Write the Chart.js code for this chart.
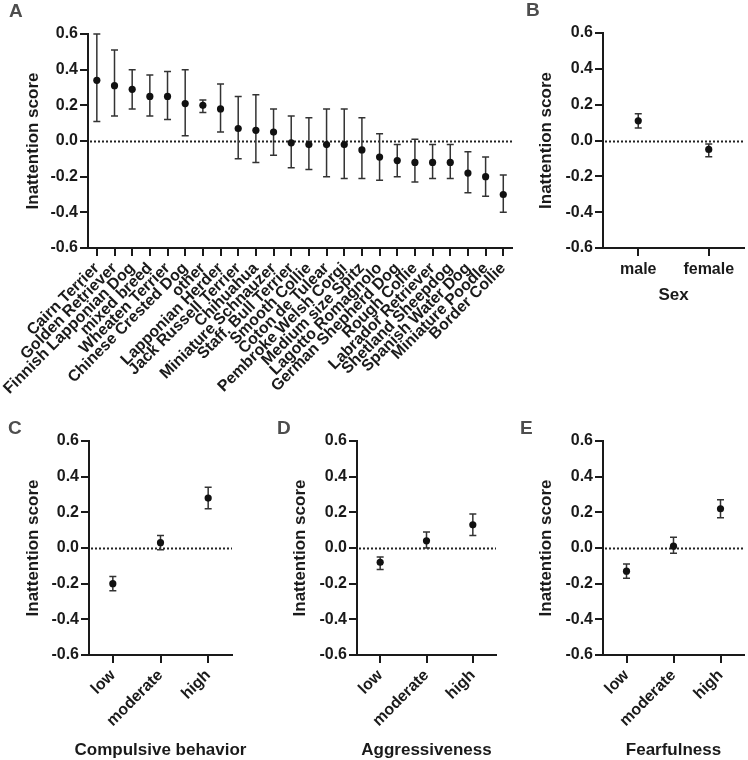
<!DOCTYPE html>
<html>
<head>
<meta charset="utf-8">
<script src="https://cdn.jsdelivr.net/npm/chart.js@4.4.1/dist/chart.umd.min.js"></script>
<style>
  body { margin: 0; background: #fff; }
  #wrap { position: relative; width: 748px; height: 760px; overflow: hidden; }
  canvas { position: absolute; }
  .tag { position: absolute; font: bold 19px "Liberation Sans", Arial, sans-serif; line-height: 1; color: #4d4d4d; }
</style>
</head>
<body>
<div id="wrap">
  <canvas id="cA" width="520" height="420" style="left:0;top:0"></canvas>
  <canvas id="cB" width="228" height="320" style="left:520px;top:0"></canvas>
  <canvas id="cC" width="262" height="360" style="left:0;top:400px"></canvas>
  <canvas id="cD" width="260" height="360" style="left:240px;top:400px"></canvas>
  <canvas id="cE" width="248" height="360" style="left:500px;top:400px"></canvas>
  <div class="tag" style="left:9px;top:1px">A</div>
  <div class="tag" style="left:526px;top:0px">B</div>
  <div class="tag" style="left:8px;top:418px">C</div>
  <div class="tag" style="left:277px;top:418px">D</div>
  <div class="tag" style="left:520px;top:418px">E</div>
</div>
<script>
// panel A - breeds
const breeds = ['Cairn Terrier', 'Golden Retriever', 'Finnish Lapponian Dog', 'mixed breed', 'Wheaten Terrier',
  'Chinese Crested Dog', 'other', 'Lapponian Herder', 'Jack Russell Terrier', 'Chihuahua', 'Miniature Schnauzer',
  'Staff. Bull Terrier', 'Smooth Collie', 'Coton de Tulear', 'Pembroke Welsh Corgi', 'Medium size Spitz',
  'Lagotto Romagnolo', 'German Shepherd Dog', 'Rough Collie', 'Labrador Retriever', 'Shetland Sheepdog',
  'Spanish Water Dog', 'Miniature Poodle', 'Border Collie'];
const breedMean = [0.34, 0.31, 0.29, 0.25, 0.25, 0.21, 0.20, 0.18, 0.07, 0.06, 0.05, -0.01,
  -0.02, -0.02, -0.02, -0.05, -0.09, -0.11, -0.12, -0.12, -0.12, -0.18, -0.20, -0.30];
const breedHigh = [0.60, 0.51, 0.40, 0.37, 0.39, 0.40, 0.23, 0.32, 0.25, 0.26, 0.18, 0.14,
  0.13, 0.18, 0.18, 0.13, 0.04, -0.02, 0.01, -0.02, -0.02, -0.06, -0.09, -0.19];
const breedLow = [0.11, 0.14, 0.18, 0.14, 0.12, 0.03, 0.16, 0.05, -0.10, -0.12, -0.08, -0.15,
  -0.16, -0.20, -0.21, -0.21, -0.22, -0.20, -0.23, -0.21, -0.21, -0.29, -0.31, -0.40];

// panel B - sex
const sexLabels = ['male', 'female'];
const sexMean = [0.11, -0.05];
const sexHigh = [0.15, -0.02];
const sexLow = [0.07, -0.09];

// panels C-E - behaviour levels
const levels = ['low', 'moderate', 'high'];
const compMean = [-0.20, 0.03, 0.28];
const compHigh = [-0.16, 0.07, 0.34];
const compLow = [-0.24, -0.01, 0.22];
const aggrMean = [-0.08, 0.04, 0.13];
const aggrHigh = [-0.05, 0.09, 0.19];
const aggrLow = [-0.12, 0.00, 0.07];
const fearMean = [-0.13, 0.01, 0.22];
const fearHigh = [-0.09, 0.06, 0.27];
const fearLow = [-0.17, -0.03, 0.17];

const yTicks = [-0.6, -0.4, -0.2, 0.0, 0.2, 0.4, 0.6];

Chart.defaults.font.family = '"Liberation Sans", Arial, sans-serif';
Chart.defaults.color = '#1a1a1a';

const ink = '#1a1a1a';

// dotted zero line + whiskers, drawn under the points
const errorBars = {
  id: 'errorBars',
  beforeDatasetsDraw(chart) {
    const { ctx, chartArea, scales: { x, y } } = chart;
    const ds = chart.data.datasets[0];
    ctx.save();
    const y0 = Math.round(y.getPixelForValue(0)) + 0.5;
    ctx.strokeStyle = '#222';
    ctx.lineWidth = 2;
    ctx.setLineDash([2, 2]);
    ctx.beginPath();
    ctx.moveTo(chartArea.left + 2, y0);
    ctx.lineTo(chartArea.right, y0);
    ctx.stroke();
    ctx.setLineDash([]);

    ctx.strokeStyle = '#333';
    ctx.lineWidth = 1.5;
    ds.low.forEach((lo, i) => {
      const px = x.getPixelForValue(i);
      const yl = y.getPixelForValue(lo);
      const yh = y.getPixelForValue(ds.high[i]);
      ctx.beginPath();
      ctx.moveTo(px, yl); ctx.lineTo(px, yh);
      ctx.moveTo(px - 3.5, yl); ctx.lineTo(px + 3.5, yl);
      ctx.moveTo(px - 3.5, yh); ctx.lineTo(px + 3.5, yh);
      ctx.stroke();
    });
    ctx.restore();
  }
};

// x axis title without the width squeeze chart.js applies
const xTitle = {
  id: 'xTitle',
  afterDraw(chart, args, opts) {
    if (!opts.text) return;
    const { ctx, chartArea } = chart;
    ctx.save();
    ctx.font = 'bold 17px "Liberation Sans", Arial, sans-serif';
    ctx.fillStyle = ink;
    ctx.textAlign = 'center';
    ctx.textBaseline = 'middle';
    ctx.fillText(opts.text, (chartArea.left + chartArea.right) / 2, opts.y);
    ctx.restore();
  }
};

function axisBits() {
  return {
    grid: { display: true, drawOnChartArea: false, drawTicks: true, tickLength: 8, color: ink, lineWidth: 2 },
    border: { display: true, color: ink, width: 2 }
  };
}

function panel(id, labels, mean, low, high, o) {
  new Chart(document.getElementById(id), {
    type: 'line',
    data: {
      labels,
      datasets: [{
        data: mean, low, high,
        showLine: false,
        pointRadius: 3.6,
        pointBackgroundColor: '#111',
        pointBorderWidth: 0
      }]
    },
    options: {
      responsive: false,
      animation: false,
      devicePixelRatio: 1,
      layout: { padding: { top: o.top, right: o.right, left: 0, bottom: 0 } },
      plugins: {
        legend: { display: false },
        tooltip: { enabled: false },
        xTitle: { text: o.xTitle, y: o.xTitleY }
      },
      scales: {
        x: {
          type: 'category',
          offset: true,
          ...axisBits(),
          ticks: {
            autoSkip: false, maxRotation: o.rot, minRotation: o.rot, padding: o.rot ? 3 : 4,
            font: { size: 16, weight: 'bold' }, color: ink
          },
          afterFit(s) { s.height = o.xh; }
        },
        y: {
          min: -0.6, max: 0.6,
          ...axisBits(),
          afterBuildTicks(s) { s.ticks = yTicks.map(v => ({ value: v })); },
          ticks: {
            padding: 2, color: ink, font: { size: 16, weight: 'bold' },
            callback: v => (Math.abs(v) < 1e-9 ? 0 : v).toFixed(1)
          },
          title: {
            display: true, text: 'Inattention score', color: ink,
            font: { size: 17, weight: 'bold' }, padding: { top: o.yTitlePad, bottom: 0 }
          },
          afterFit(s) { s.width = o.yw; }
        }
      }
    },
    plugins: [errorBars, xTitle]
  });
}

panel('cA', breeds, breedMean, breedLow, breedHigh, { top: 34, right: 7, yw: 88, xh: 172, rot: 45, yTitlePad: 23 });
panel('cB', sexLabels, sexMean, sexLow, sexHigh, { top: 33, right: 1, yw: 83, xh: 72, rot: 0, yTitlePad: 16, xTitle: 'Sex', xTitleY: 295 });
panel('cC', levels, compMean, compLow, compHigh, { top: 41, right: 30, yw: 89, xh: 105, rot: 45, yTitlePad: 23, xTitle: 'Compulsive behavior', xTitleY: 350 });
panel('cD', levels, aggrMean, aggrLow, aggrHigh, { top: 41, right: 1, yw: 117, xh: 105, rot: 45, yTitlePad: 50, xTitle: 'Aggressiveness', xTitleY: 350 });
panel('cE', levels, fearMean, fearLow, fearHigh, { top: 41, right: 1, yw: 103, xh: 105, rot: 45, yTitlePad: 36, xTitle: 'Fearfulness', xTitleY: 350 });
</script>
</body>
</html>
